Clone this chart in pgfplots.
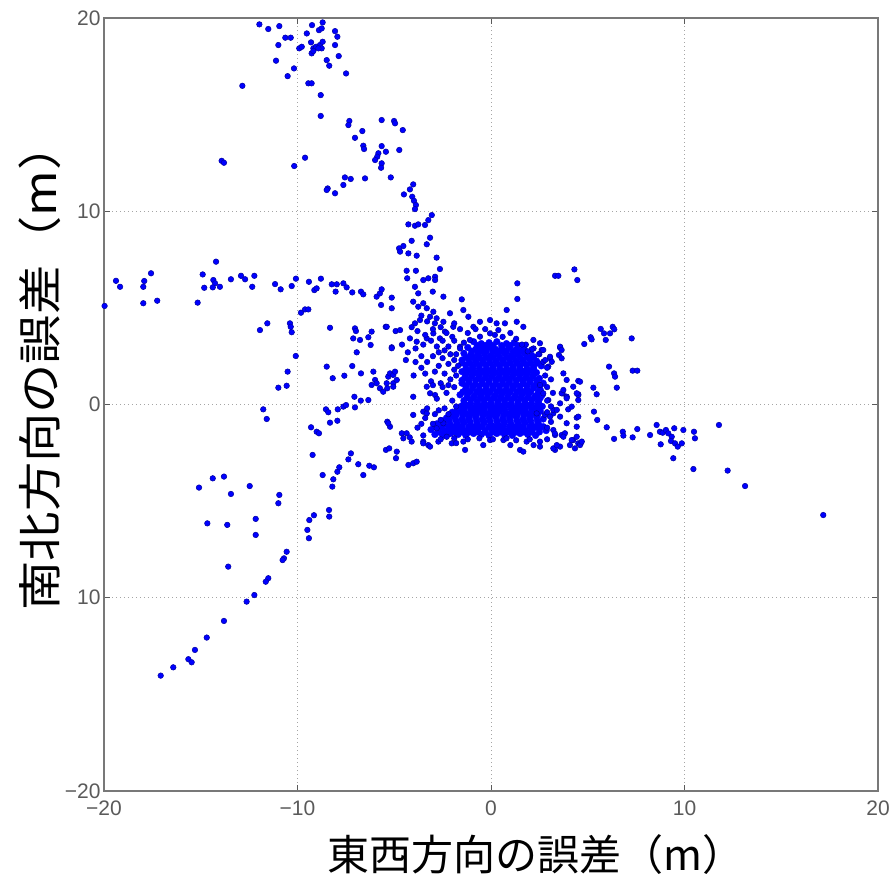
\documentclass[border=0pt]{standalone}
\usepackage{pgfplots}
\pgfplotsset{compat=1.18}
\usepackage{fontspec}
\setmainfont{Liberation Sans}
\newfontfamily\cjk{Noto Sans CJK JP}
\definecolor{tickgray}{RGB}{90,90,90}
\definecolor{axgray}{RGB}{120,120,120}
\definecolor{gridgray}{RGB}{165,165,165}
\definecolor{dotblue}{RGB}{0,0,255}
\definecolor{dotedge}{RGB}{0,0,160}
\begin{document}
\begin{tikzpicture}
\useasboundingbox (-104pt,-91pt) rectangle (786pt,791pt);
\begin{axis}[
 at={(0,0)}, anchor=south west,
 scale only axis, width=774pt, height=773pt,
 xmin=-20, xmax=20, ymin=-20, ymax=20,
 xtick={-20,-10,0,10,20}, ytick={-20,-10,0,10,20},
 xticklabels={−20,−10,0,10,20},
 yticklabels={−20,10,0,10,20},
 grid=major,
 major grid style={gridgray, line width=0.9pt, dash pattern=on 1.2pt off 2.8pt},
 axis line style={axgray, line width=1.3pt},
 tick align=inside, major tick length=6pt,
 tick style={tickgray, line width=1pt},
 ticklabel style={font=\fontsize{21}{21}\selectfont, text=tickgray},
 xticklabel style={yshift=-6pt},
 /pgf/number format/assume math mode=true,
 clip=false,
]
% dense core of the cloud
\addplot[only marks, mark=*, mark size=3.4pt, mark options={fill=dotblue, draw=dotblue, line width=0.3pt}] coordinates {
(-0.9,3.25) (-0.5,3.15) (-0.1,3.2) (0.3,3.25) (0.8,3.15) (1.2,3.2)
(-1.2,2.95) (-0.8,2.85) (-0.45,2.9) (-0.1,2.95) (0.25,2.85) (0.6,2.9) (0.95,2.95) (1.3,2.85) (1.7,2.9)
(-1.4,2.65) (-1.05,2.55) (-0.7,2.6) (-0.35,2.65) (0,2.55) (0.35,2.6) (0.7,2.65) (1.05,2.55) (1.4,2.6) (1.75,2.65) (2.1,2.55)
(-1.5,2.3) (-1.15,2.35) (-0.8,2.25) (-0.45,2.3) (-0.1,2.35) (0.25,2.25) (0.6,2.3) (0.95,2.35) (1.3,2.25) (1.65,2.3) (2.0,2.35) (2.35,2.25)
(-1.3,2.05) (-0.95,1.95) (-0.6,2.0) (-0.25,2.05) (0.1,1.95) (0.45,2.0) (0.8,2.05) (1.15,1.95) (1.5,2.0) (1.85,2.05) (2.2,1.95) (2.6,2.0)
(-1.5,1.7) (-1.15,1.75) (-0.8,1.65) (-0.45,1.7) (-0.1,1.75) (0.25,1.65) (0.6,1.7) (0.95,1.75) (1.3,1.65) (1.65,1.7) (2.0,1.75) (2.35,1.65)
(-1.35,1.4) (-1.0,1.45) (-0.65,1.35) (-0.3,1.4) (0.05,1.45) (0.4,1.35) (0.75,1.4) (1.1,1.45) (1.45,1.35) (1.8,1.4) (2.15,1.45) (2.5,1.35)
(-1.5,1.1) (-1.15,1.15) (-0.8,1.05) (-0.45,1.1) (-0.1,1.15) (0.25,1.05) (0.6,1.1) (0.95,1.15) (1.3,1.05) (1.65,1.1) (2.0,1.15) (2.35,1.05) (2.7,1.1)
(-1.3,0.8) (-0.95,0.85) (-0.6,0.75) (-0.25,0.8) (0.1,0.85) (0.45,0.75) (0.8,0.8) (1.15,0.85) (1.5,0.75) (1.85,0.8) (2.2,0.85) (2.55,0.75)
(-1.6,0.5) (-1.2,0.55) (-0.85,0.45) (-0.5,0.5) (-0.15,0.55) (0.2,0.45) (0.55,0.5) (0.9,0.55) (1.25,0.45) (1.6,0.5) (1.95,0.55) (2.3,0.45) (2.65,0.5)
(-1.4,0.2) (-1.05,0.25) (-0.7,0.15) (-0.35,0.2) (0,0.25) (0.35,0.15) (0.7,0.2) (1.05,0.25) (1.4,0.15) (1.75,0.2) (2.1,0.25) (2.45,0.15)
(-1.55,-0.1) (-1.2,-0.05) (-0.85,-0.15) (-0.5,-0.1) (-0.15,-0.05) (0.2,-0.15) (0.55,-0.1) (0.9,-0.05) (1.25,-0.15) (1.6,-0.1) (1.95,-0.05) (2.3,-0.15) (2.65,-0.1)
(-2.0,-0.4) (-1.65,-0.35) (-1.3,-0.45) (-0.95,-0.4) (-0.6,-0.35) (-0.25,-0.45) (0.1,-0.4) (0.45,-0.35) (0.8,-0.45) (1.15,-0.4) (1.5,-0.35) (1.85,-0.45) (2.2,-0.4) (2.55,-0.35)
(-2.3,-0.7) (-1.9,-0.65) (-1.5,-0.75) (-1.15,-0.7) (-0.8,-0.65) (-0.45,-0.75) (-0.1,-0.7) (0.25,-0.65) (0.6,-0.75) (0.95,-0.7) (1.3,-0.65) (1.65,-0.75) (2.0,-0.7) (2.35,-0.65) (2.7,-0.75)
(-2.8,-1.0) (-2.45,-0.95) (-2.1,-1.05) (-1.75,-1.0) (-1.4,-0.95) (-1.05,-1.05) (-0.7,-1.0) (-0.35,-0.95) (0,-1.05) (0.35,-1.0) (0.7,-0.95) (1.05,-1.05) (1.4,-1.0) (1.75,-0.95) (2.1,-1.05) (2.45,-1.0)
(-3.1,-1.3) (-2.75,-1.25) (-2.4,-1.35) (-2.05,-1.3) (-1.7,-1.25) (-1.35,-1.35) (-1.0,-1.3) (-0.65,-1.25) (-0.3,-1.35) (0.05,-1.3) (0.4,-1.25) (0.75,-1.35) (1.1,-1.3) (1.45,-1.25) (1.8,-1.35) (2.15,-1.3) (2.5,-1.25) (2.85,-1.35)
(-2.9,-1.55) (-2.5,-1.6) (-2.1,-1.5) (-1.7,-1.55) (-1.3,-1.6) (-0.9,-1.5) (-0.5,-1.55) (-0.1,-1.6) (0.3,-1.5) (0.7,-1.55) (1.1,-1.6) (1.5,-1.5) (1.9,-1.55) (2.3,-1.6)
(-0.7,3.05) (-0.3,3.05) (0.1,3.05) (0.55,3.05) (1.0,3.05) (1.4,3.05)
(-1.0,2.75) (-0.6,2.75) (-0.25,2.75) (0.1,2.75) (0.45,2.75) (0.8,2.75) (1.15,2.75) (1.5,2.75)
(-1.3,2.45) (-0.95,2.45) (-0.6,2.45) (-0.25,2.45) (0.1,2.45) (0.45,2.45) (0.8,2.45) (1.15,2.45) (1.5,2.45) (1.85,2.45) (2.2,2.45)
(-1.5,2.15) (-1.1,2.15) (-0.75,2.15) (-0.4,2.15) (-0.05,2.15) (0.3,2.15) (0.65,2.15) (1.0,2.15) (1.35,2.15) (1.7,2.15) (2.05,2.15) (2.4,2.15)
(-1.3,1.85) (-0.95,1.85) (-0.6,1.85) (-0.25,1.85) (0.1,1.85) (0.45,1.85) (0.8,1.85) (1.15,1.85) (1.5,1.85) (1.85,1.85) (2.2,1.85)
(-1.3,1.55) (-0.95,1.55) (-0.6,1.55) (-0.25,1.55) (0.1,1.55) (0.45,1.55) (0.8,1.55) (1.15,1.55) (1.5,1.55) (1.85,1.55) (2.2,1.55)
(-1.5,1.25) (-1.15,1.25) (-0.8,1.25) (-0.45,1.25) (-0.1,1.25) (0.25,1.25) (0.6,1.25) (0.95,1.25) (1.3,1.25) (1.65,1.25) (2.0,1.25) (2.35,1.25)
(-1.3,0.95) (-0.95,0.95) (-0.6,0.95) (-0.25,0.95) (0.1,0.95) (0.45,0.95) (0.8,0.95) (1.15,0.95) (1.5,0.95) (1.85,0.95) (2.2,0.95) (2.5,0.95)
(-1.45,0.65) (-1.1,0.65) (-0.75,0.65) (-0.4,0.65) (-0.05,0.65) (0.3,0.65) (0.65,0.65) (1.0,0.65) (1.35,0.65) (1.7,0.65) (2.05,0.65) (2.45,0.65)
(-1.25,0.35) (-0.9,0.35) (-0.55,0.35) (-0.2,0.35) (0.15,0.35) (0.5,0.35) (0.85,0.35) (1.2,0.35) (1.55,0.35) (1.9,0.35) (2.25,0.35) (2.55,0.35)
(-1.4,0.05) (-1.05,0.05) (-0.7,0.05) (-0.35,0.05) (0,0.05) (0.35,0.05) (0.7,0.05) (1.05,0.05) (1.4,0.05) (1.75,0.05) (2.1,0.05) (2.45,0.05)
(-1.75,-0.25) (-1.4,-0.25) (-1.05,-0.25) (-0.7,-0.25) (-0.35,-0.25) (0,-0.25) (0.35,-0.25) (0.7,-0.25) (1.05,-0.25) (1.4,-0.25) (1.75,-0.25) (2.1,-0.25) (2.45,-0.25)
(-2.15,-0.55) (-1.8,-0.55) (-1.45,-0.55) (-1.1,-0.55) (-0.75,-0.55) (-0.4,-0.55) (-0.05,-0.55) (0.3,-0.55) (0.65,-0.55) (1.0,-0.55) (1.35,-0.55) (1.7,-0.55) (2.05,-0.55) (2.4,-0.55)
(-2.5,-0.85) (-2.15,-0.85) (-1.8,-0.85) (-1.45,-0.85) (-1.1,-0.85) (-0.75,-0.85) (-0.4,-0.85) (-0.05,-0.85) (0.3,-0.85) (0.65,-0.85) (1.0,-0.85) (1.35,-0.85) (1.7,-0.85) (2.05,-0.85) (2.4,-0.85)
(-2.9,-1.15) (-2.55,-1.15) (-2.2,-1.15) (-1.85,-1.15) (-1.5,-1.15) (-1.15,-1.15) (-0.8,-1.15) (-0.45,-1.15) (-0.1,-1.15) (0.25,-1.15) (0.6,-1.15) (0.95,-1.15) (1.3,-1.15) (1.65,-1.15) (2.0,-1.15) (2.35,-1.15) (2.7,-1.15)
(-2.7,-1.42) (-2.3,-1.42) (-1.9,-1.42) (-1.5,-1.42) (-1.1,-1.42) (-0.7,-1.42) (-0.3,-1.42) (0.1,-1.42) (0.5,-1.42) (0.9,-1.42) (1.3,-1.42) (1.7,-1.42) (2.1,-1.42) (2.5,-1.42)
};
% individual points
\addplot[only marks, mark=*, mark size=2.8pt, mark options={fill=dotblue, draw=dotedge, line width=0.5pt}] coordinates {
(-11.97,19.67) (-11.51,19.43) (-10.94,19.58) (-10.63,18.98) (-10.35,18.98) (-10.99,18.60) (-11.11,17.79) (-10.18,17.39) (-10.51,16.99) (-12.85,16.49) (-9.91,18.43) (-9.78,18.51) (-9.52,19.20) (-9.25,19.63) (-8.89,19.37) (-8.75,19.46) (-8.70,19.77) (-9.30,18.74) (-9.18,18.43) (-9.04,18.51) (-8.84,18.60) (-8.70,18.77) (-8.75,18.43) (-9.27,18.17) (-9.18,18.29) (-8.92,18.43) (-8.06,19.32) (-7.94,19.03) (-8.06,18.60) (-7.87,18.03) (-8.49,17.82) (-8.36,17.53) (-7.49,17.13) (-9.44,16.62) (-9.27,16.62) (-8.80,16.01) (-8.80,14.93) (-7.32,14.67) (-7.37,14.46) (-5.65,14.72) (-5.01,14.67) (-4.96,14.55) (-4.56,14.20) (-6.65,14.15) (-7.03,13.80) (-6.60,13.39) (-6.56,13.22) (-5.65,13.37) (-5.43,13.08) (-4.74,13.17) (-5.82,13.00) (-5.88,12.82) (-5.99,12.65) (-5.65,12.48) (-5.68,12.25) (-5.18,11.75) (-6.51,11.70) (-7.55,11.75) (-7.25,11.67) (-7.63,11.36) (-8.44,11.18) (-8.49,11.10) (-8.06,10.93) (-9.61,12.77) (-10.17,12.34) (-13.92,12.61) (-13.80,12.51) (-4.02,11.39) (-4.19,11.13) (-4.50,10.87) (-4.07,10.75) (-3.98,10.54) (-3.88,10.32) (-3.93,10.11) (-3.06,9.80) (-3.24,9.54) (-3.41,9.29) (-4.27,9.32) (-3.93,9.25) (-3.76,9.32) (-3.15,8.63) (-3.32,8.29) (-4.10,8.47) (-4.53,8.20) (-4.75,8.08) (-4.70,7.91) (-4.27,7.82) (-3.84,7.70) (-2.81,7.60) (-14.21,7.39)
(-19.38,6.40) (-19.17,6.09) (-17.97,6.09) (-17.92,6.39) (-17.57,6.79) (-17.97,5.24) (-17.25,5.37) (-15.16,5.27) (-14.90,6.73) (-14.82,6.04) (-14.35,6.44) (-14.26,6.27) (-14.38,6.06) (-14.01,6.09) (-13.44,6.48) (-12.92,6.66) (-12.71,6.48) (-12.23,6.66) (-12.34,6.09) (-11.16,6.23) (-10.87,5.96) (-10.30,6.13) (-10.08,6.51) (-9.41,6.35) (-8.79,6.51) (-9.13,5.92) (-9.01,6.01) (-8.23,6.22) (-7.97,6.22) (-7.63,6.27) (-7.46,6.06) (-8.03,5.84) (-7.17,5.80) (-6.72,5.84) (-6.60,5.70) (-5.91,5.58) (-5.74,5.75) (-5.65,5.96) (-5.13,5.53) (-5.68,5.15) (-9.82,4.75) (-9.61,4.92) (-9.44,4.92) (-11.94,3.85) (-11.56,4.20) (-10.39,4.20) (-10.35,4.02) (-10.30,3.74) (-8.32,3.97) (-7.03,3.94) (-6.98,3.80) (-7.12,3.42) (-6.17,3.77) (-6.34,3.48) (-6.77,3.34) (-6.22,3.08) (-5.44,4.02) (-4.93,3.80) (-5.13,2.96) (-6.94,2.70) (-10.09,2.51) (-10.51,1.70) (-10.99,0.87) (-10.56,0.97) (-8.49,1.96) (-8.18,1.36) (-7.58,1.49) (-7.17,1.99) (-6.72,1.61) (-6.08,1.70) (-5.99,1.27) (-6.17,1.01) (-5.91,1.10) (-5.74,0.84) (-5.31,1.44) (-5.22,1.61) (-5.05,1.53) (-5.36,0.84) (-7.06,0.40) (-6.73,0.20) (-6.34,0.23) (-11.77,-0.25) (-11.59,-0.75) (-8.53,-0.25) (-8.41,-0.40) (-7.92,-0.25) (-7.63,-0.11) (-7.49,-0.03) (-7.03,-0.15) (-8.32,-0.94) (-7.94,-0.84) (-9.30,-1.18) (-9.01,-1.41) (-8.89,-1.49) (-5.36,-0.89) (-5.22,-1.15) (-19.97,5.10)
(-9.22,-2.61) (-8.70,-3.65) (-8.15,-3.87) (-8.20,-4.25) (-7.94,-3.48) (-7.84,-3.25) (-7.37,-2.84) (-7.24,-2.53) (-6.86,-3.09) (-6.60,-3.65) (-6.29,-3.17) (-6.05,-3.25) (-5.43,-2.35) (-5.26,-2.27) (-4.87,-2.44) (-4.91,-2.78) (-15.09,-4.30) (-14.38,-3.82) (-13.80,-3.73) (-13.44,-4.63) (-12.47,-4.22) (-10.94,-4.68) (-10.99,-5.11) (-14.66,-6.15) (-13.63,-6.23) (-12.16,-5.92) (-12.16,-6.75) (-9.39,-5.98) (-9.15,-5.73) (-9.49,-6.49) (-9.41,-6.92) (-8.37,-5.46) (-8.36,-5.80) (-13.58,-8.39) (-10.56,-7.62) (-10.70,-7.96) (-10.77,-8.05) (-11.51,-8.99) (-11.64,-9.17) (-12.23,-9.86) (-12.63,-10.20) (-13.80,-11.20) (-14.69,-12.06) (-15.30,-12.70) (-15.64,-13.18) (-15.47,-13.34) (-16.42,-13.60) (-17.07,-14.03)
(3.31,6.66) (3.48,6.66) (4.31,6.99) (4.46,6.44) (4.82,3.13) (5.15,3.48) (5.20,3.37) (5.67,3.91) (5.84,3.68) (5.93,3.34) (6.15,3.68) (6.29,4.02) (6.37,3.89) (7.27,3.42) (3.57,2.94) (3.51,2.56) (3.05,2.39) (2.62,2.82) (2.70,2.21) (2.96,1.96) (6.10,1.96) (6.36,1.61) (6.41,1.44) (6.50,0.87) (7.32,1.75) (7.56,1.75) (4.51,1.22) (4.51,0.53) (5.29,0.87) (5.46,0.53) (3.70,0.58) (3.91,0.40) (5.32,-0.37) (5.49,-0.80) (4.43,-0.68) (5.98,-1.18) (6.36,-1.78) (6.81,-1.41) (6.84,-1.61) (7.32,-1.70) (7.56,-1.27) (8.22,-1.58) (8.56,-1.06) (8.73,-1.41) (8.87,-1.46) (9.04,-1.32) (9.16,-1.49) (9.34,-1.67) (9.47,-1.23) (9.30,-1.89) (9.51,-2.01) (9.65,-2.18) (9.86,-2.01) (9.94,-1.32) (8.77,-2.06) (9.42,-2.78) (10.49,-1.41) (10.54,-1.75) (11.78,-1.06) (10.46,-3.34) (12.23,-3.42) (13.13,-4.22) (17.17,-5.72) (3.31,-2.35) (3.57,-2.18) (3.74,-1.58) (4.08,-2.10) (4.25,-1.84) (4.51,-2.01) (4.64,-2.01) (3.99,-0.25) (4.17,-0.11) (3.57,0.06) (3.22,-0.46) (3.31,-1.58)
(-2.64,7.01) (-4.36,6.92) (-3.88,6.92) (-4.33,6.53) (-3.50,6.44) (-3.24,6.53) (-2.89,6.61) (-2.89,6.44) (-3.93,6.09) (-3.76,5.75) (-3.01,5.84) (-2.46,5.58) (1.36,6.27) (1.36,5.46) (-1.51,5.44)
(-5.31,-0.97) (-4.02,0.40) (-4.02,-0.54) (-3.50,-0.37) (-3.32,-0.46) (-4.61,-1.49) (-4.53,-1.75) (-4.10,-1.92) (-3.50,-1.92) (-3.24,-2.10) (-4.27,-3.13) (-4.02,-3.04) (-3.84,-2.96) (-2.72,-1.92) (-2.03,-2.01) (-1.34,-2.35) (-1.43,-1.92) (-0.05,-1.84) (0.64,-1.84) (1.50,-2.35) (1.67,-2.44) (1.84,-1.92) (2.53,-1.92) (3.22,-2.27) (3.40,-2.10) (3.65,-1.58) (3.82,-1.49) (4.17,-1.84) (4.34,-2.27) (4.60,-2.10) (4.69,-1.92) (2.36,-0.46) (2.79,-0.54) (3.05,-0.63) (3.65,0.58) (3.91,0.40) (4.51,0.49) (4.60,1.18) (3.22,-0.28) (2.96,0.23) (2.70,0.58) (2.53,1.01) (-3.32,0.92) (-3.15,0.58) (-2.89,0.49) (-5.05,1.10) (-5.57,0.66)
(-5.13,4.98) (-4.02,5.32) (-3.76,5.06) (-3.50,5.24) (-3.32,4.98) (-2.98,4.80) (-3.15,4.54) (-2.81,4.46) (-3.67,4.37) (-3.93,4.20) (-2.12,4.72) (-2.46,4.28) (-1.95,4.02) (-2.38,3.77) (-2.64,3.42) (-2.98,3.68) (-3.32,3.42) (-3.84,3.25) (-4.19,3.42) (-5.13,2.91) (-5.39,4.02) (-4.70,3.85) (-4.96,1.70) (-5.39,1.10) (-5.05,0.92) (-4.87,1.27) (-4.36,-1.49) (-3.50,-2.01) (-3.15,-2.18) (-2.81,-1.23) (-2.46,-0.97) (-2.29,-1.67) (-1.60,2.99) (-1.09,3.34) (-0.57,3.51) (-0.05,3.68) (0.38,3.85) (0.81,4.89) (1.33,4.28) (1.67,4.02) (-0.57,4.28) (-0.91,4.02) (-1.17,4.54) (-1.43,4.89) (-0.05,4.37) (0.29,4.20) (0.72,4.20) (2.19,3.34) (2.53,3.17) (2.70,2.82) (3.05,2.47) (3.14,2.21) (3.57,2.99) (3.65,2.82) (3.65,2.39) (3.74,1.61) (3.91,1.27) (3.74,0.75) (3.91,0.32) (3.40,-0.28) (3.57,-0.63) (3.91,-0.97) (3.22,-1.32) (3.74,-1.67) (4.25,0.92) (4.43,0.58) (4.51,0.23) (4.51,-0.63) (4.43,-1.15) (4.43,-1.67) (2.53,-2.18)
(-3.6,4.6) (-3.3,4.3) (-2.9,4.2) (-2.6,4.0) (-3.0,3.9) (-2.3,3.7) (-2.0,3.5) (-2.5,3.3) (-2.8,3.0) (-3.5,3.1) (-3.9,2.9) (-4.3,2.7) (-2.2,3.0) (-1.9,3.3) (-2.1,2.6) (-2.5,2.4) (-3.0,2.5) (-3.3,2.2) (-2.7,2.0) (-2.2,2.1) (-1.9,1.8) (-2.4,1.6) (-2.9,1.7) (-3.6,1.9) (-4.0,1.5) (-2.1,1.3) (-2.6,1.1) (-3.1,1.2) (-1.9,0.9) (-2.3,0.6) (-2.8,0.3) (-2.0,0.2) (-1.8,-0.1) (-2.4,-0.2) (-2.9,-0.5) (-3.4,-0.7) (-2.6,-0.8) (-2.2,-0.5) (-1.9,4.2) (-1.6,3.9) (-1.2,3.7) (-0.8,3.9) (-0.3,3.9) (0.2,3.6) (0.6,3.5) (1.0,3.7) (1.3,3.4) (1.8,3.1) (2.2,2.9) (2.5,2.6) (2.8,2.3) (2.9,1.9) (2.8,1.5) (3.1,1.3) (2.9,0.9) (3.2,0.6) (2.9,0.2) (3.1,-0.1) (2.9,-0.4) (3.1,-0.9) (2.9,-1.2) (3.3,-1.5) (2.9,-1.8) (2.2,-2.1) (1.0,-2.1) (-0.4,-2.1) (-1.8,-2.0) (-3.5,-1.6) (-3.8,-1.2) (-4.2,-1.7)
(-3.8,3.8) (-3.4,3.6) (-3.1,3.3) (-2.7,2.7) (-3.6,2.5) (-3.9,2.2) (-3.4,1.6) (-3.0,1.0) (-2.5,0.9) (-2.2,1.0) (-1.8,1.5) (-1.9,2.3) (-2.4,2.8) (-4.4,2.3) (-4.6,3.1) (-4.1,4.0) (-3.3,-0.2) (-2.7,-0.3) (-3.0,-1.0) (-3.6,-1.0)
(-2.6,-1.8) (-1.9,-1.75) (-1.2,-1.8) (-0.6,-1.75) (0.1,-1.8) (0.8,-1.75) (1.3,-1.85) (2.0,-1.8)
(-1.8,2.6) (-1.6,2.9) (-1.4,3.2) (1.6,3.1) (2.1,2.85) (2.45,2.6) (1.9,2.75) (-1.7,2.0)
};
\node[font=\cjk\fontsize{42}{42}\selectfont, text=black] at (axis description cs:0.558,-0.0828) {東西方向の誤差（m）};
\node[font=\cjk\fontsize{44}{44}\selectfont, text=black, rotate=90, xscale=1.12] at (axis description cs:-0.0827,0.55) {南北方向の誤差（m）};
\end{axis}
\end{tikzpicture}
\end{document}
